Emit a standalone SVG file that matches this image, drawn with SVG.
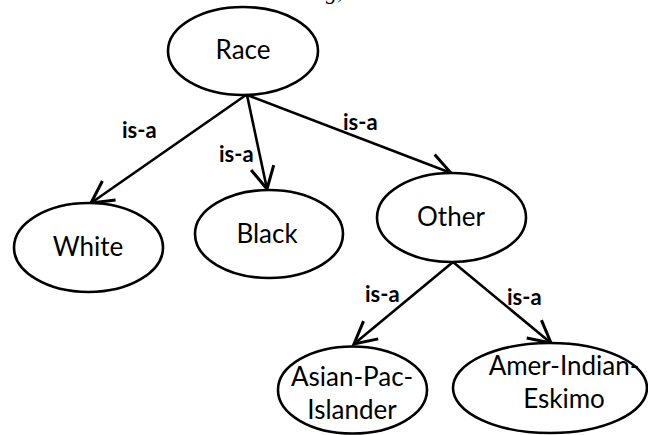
<svg xmlns="http://www.w3.org/2000/svg" width="648" height="435" viewBox="0 0 648 435">
  <style>
    .node ellipse { fill: #ffffff; stroke: #000000; stroke-width: 2.6; }
    .node text { font-family: Lato, "Open Sans", "Liberation Sans", sans-serif; font-size: 26px; fill: #000000; text-anchor: middle; }
    .edge line { stroke: #000000; stroke-width: 2.6; marker-end: url(#arrow); }
    .lbl { font-family: Lato, "Liberation Sans", sans-serif; font-weight: bold; font-size: 22px; fill: #000000; }
    .top { font-family: "Liberation Serif", serif; font-style: italic; font-size: 22px; fill: #000000; }
  </style>
  <defs>
    <marker id="arrow" markerUnits="userSpaceOnUse" markerWidth="30" markerHeight="30" viewBox="-22 -12 26 24" refX="0" refY="0" orient="auto">
      <path d="M-19,-10 L0,0 L-19,10" fill="none" stroke="#000000" stroke-width="2.6" stroke-linejoin="miter"/>
    </marker>
  </defs>
  <rect width="648" height="435" fill="#ffffff"/>
  <text class="top" x="326" y="-1">g,</text>

  <g id="connectors" class="edge">
    <line x1="246" y1="95" x2="91" y2="203"/>
    <line x1="247" y1="95" x2="267" y2="189"/>
    <line x1="247" y1="95" x2="451" y2="173"/>
    <line x1="453" y1="262" x2="354" y2="344"/>
    <line x1="453" y1="262" x2="551" y2="343"/>
  </g>
  <g id="edge-labels">
    <text class="lbl" x="122" y="138">is-a</text>
    <text class="lbl" x="219" y="162">is-a</text>
    <text class="lbl" x="343" y="130">is-a</text>
    <text class="lbl" x="365" y="302">is-a</text>
    <text class="lbl" x="507" y="305">is-a</text>
  </g>

  <g id="race" class="node">
    <ellipse cx="243" cy="51" rx="75" ry="44"/>
    <text x="243" y="59">Race</text>
  </g>
  <g id="white" class="node">
    <ellipse cx="88.5" cy="247.5" rx="74.5" ry="44.5"/>
    <text x="88" y="256">White</text>
  </g>
  <g id="black" class="node">
    <ellipse cx="269" cy="234" rx="74" ry="44"/>
    <text x="267" y="243">Black</text>
  </g>
  <g id="other" class="node">
    <ellipse cx="451.5" cy="217.5" rx="74.5" ry="44.5"/>
    <text x="451" y="226">Other</text>
  </g>
  <g id="asian" class="node">
    <ellipse cx="352.5" cy="390" rx="74.5" ry="43.5"/>
    <text x="352" y="386">Asian-Pac-</text>
    <text x="352" y="419">Islander</text>
  </g>
  <g id="amer" class="node">
    <ellipse cx="550" cy="388" rx="97" ry="45"/>
    <text x="564" y="375">Amer-Indian-</text>
    <text x="564" y="408">Eskimo</text>
  </g>
</svg>
